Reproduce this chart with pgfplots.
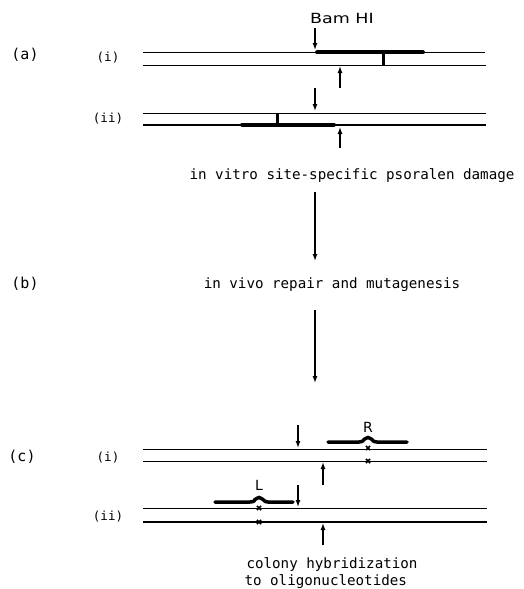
\documentclass[border=0pt]{standalone}
\usepackage{fontspec}
\setmainfont{DejaVu Sans Mono}
\newfontfamily\widesans{DejaVu Sans}[FakeStretch=1.25]
\newfontfamily\plainsans{DejaVu Sans}
\usepackage{pgfplots}
\pgfplotsset{compat=1.18}
\usetikzlibrary{arrows.meta}
\begin{document}
\begin{tikzpicture}
\begin{axis}[
    name=ax,
    width=523pt, height=589pt, scale only axis,
    xmin=0, xmax=523, ymin=0, ymax=589, y dir=reverse,
    hide axis, clip=false,
    cycle list={{black, solid, mark=none, line width=1.3pt}},
]
% strands
\addplot coordinates {(143,52) (485,52)};
\addplot coordinates {(143,65) (486,65)};
\addplot coordinates {(143,113) (486,113)};
\addplot coordinates {(143,125) (486,125)};
\addplot coordinates {(143,449) (487,449)};
\addplot coordinates {(143,461) (487,461)};
\addplot coordinates {(143,508) (487,508)};
\addplot coordinates {(143,522) (487,522)};
% psoralen adducts
\addplot[black, line width=3.8pt, line cap=round] coordinates {(317,52.3) (423,52.3)};
\addplot[black, line width=3pt] coordinates {(383,53) (383,65)};
\addplot[black, line width=3.8pt, line cap=round] coordinates {(242,124.6) (334,124.6)};
\addplot[black, line width=3pt] coordinates {(277,113) (277,124)};
% repaired patches
\addplot[black, line width=3.5pt, line cap=round, smooth, tension=0.5] coordinates {(328,442) (359,442) (364,439.5) (368,437.5) (372,439.5) (377,442) (407,442)};
\addplot[black, line width=3.5pt, line cap=round, smooth, tension=0.5] coordinates {(215,502) (250,502) (255,499.5) (259,497.5) (263,499.5) (268,502) (293,502)};
% mutations
\addplot[black, only marks, mark=x, mark size=3pt, line width=1.6pt] coordinates {(368,448) (368,461) (259,508) (259,522)};
% arrows
\pgfplotsset{arr/.style={black, mark=none, line width=1.3pt, -{Latex[length=7pt,width=5pt]}}}
\addplot[arr] coordinates {(315,28) (315,50)};
\addplot[arr] coordinates {(340,88) (340,66)};
\addplot[arr] coordinates {(315,88) (315,111)};
\addplot[arr] coordinates {(340,148) (340,127)};
\addplot[arr] coordinates {(315,192) (315,261)};
\addplot[arr] coordinates {(315,310) (315,383)};
\addplot[arr] coordinates {(298,425) (298,448)};
\addplot[arr] coordinates {(323,485) (323,462)};
\addplot[arr] coordinates {(298,485) (298,507)};
\addplot[arr] coordinates {(323,545) (323,523)};
% text
\node[font=\fontsize{15}{15}\selectfont] at (axis cs:25,55) {(a)};
\node[font=\fontsize{15}{15}\selectfont] at (axis cs:25,284) {(b)};
\node[font=\fontsize{15}{15}\selectfont] at (axis cs:22,457) {(c)};
\node[font=\fontsize{12.5}{12}\selectfont] at (axis cs:108,58) {(i)};
\node[font=\fontsize{12.5}{12}\selectfont] at (axis cs:108,119) {(ii)};
\node[font=\fontsize{12.5}{12}\selectfont] at (axis cs:108,458) {(i)};
\node[font=\fontsize{12.5}{12}\selectfont] at (axis cs:108,517) {(ii)};
\node[font=\widesans\fontsize{14}{14}\selectfont] at (axis cs:342,18) {Bam HI};
\node[font=\fontsize{14.2}{14}\selectfont] at (axis cs:352,176) {in vitro site-specific psoralen damage};
\node[font=\fontsize{14.2}{14}\selectfont] at (axis cs:332,285) {in vivo repair and mutagenesis};
\node[font=\plainsans\fontsize{14}{14}\selectfont] at (axis cs:368,427) {R};
\node[font=\plainsans\fontsize{14}{14}\selectfont] at (axis cs:259,485) {L};
\node[font=\fontsize{14.2}{14}\selectfont, anchor=west] at (axis cs:243,565) {colony hybridization};
\node[font=\fontsize{14.2}{14}\selectfont, anchor=west] at (axis cs:241,582) {to oligonucleotides};
\end{axis}
\pgfresetboundingbox
\path[use as bounding box] (ax.south west) rectangle (ax.north east);
\end{tikzpicture}
\end{document}
